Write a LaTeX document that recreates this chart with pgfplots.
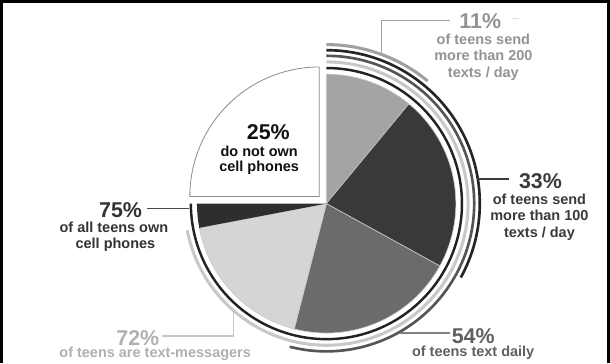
\documentclass[border=0pt]{standalone}
\usepackage{pgfplots}
\pgfplotsset{compat=1.18}
\usepackage{fontspec}
\setmainfont{Liberation Sans}
\definecolor{s1}{HTML}{A4A4A4}
\definecolor{s2}{HTML}{393939}
\definecolor{s3}{HTML}{6B6B6B}
\definecolor{s4}{HTML}{D5D5D5}
\definecolor{s5}{HTML}{2E2E2E}
\definecolor{sep}{HTML}{C8C8C8}
\definecolor{a75}{HTML}{222222}
\definecolor{a72}{HTML}{C8C8C8}
\definecolor{a54}{HTML}{555555}
\definecolor{a33}{HTML}{252525}
\definecolor{a11}{HTML}{A0A0A0}
\definecolor{t11}{HTML}{939393}
\definecolor{t33}{HTML}{3A3A3A}
\definecolor{t54}{HTML}{606060}
\definecolor{t72}{HTML}{B0B0B0}
\definecolor{t75}{HTML}{333333}
\definecolor{t25}{HTML}{111111}
\newcommand{\pctfont}{\fontsize{21}{21}\selectfont\bfseries}
\newcommand{\bodyfont}{\fontsize{14.2}{15}\selectfont\bfseries}
\begin{document}
\begin{tikzpicture}
\begin{axis}[x=1pt,y=1pt,xmin=0,xmax=610,ymin=0,ymax=364,
  axis lines=none,ticks=none,clip=false,scale only axis]
% frame
\draw[black,line width=2.5pt] (axis cs:12,0) -- (axis cs:12,354.5) -- (axis cs:608,354.5) -- (axis cs:608,0);
% pie slices (percent of teens), clockwise from top
\fill[s1,draw=sep,line width=0.6pt] (axis cs:331,156) -- ++(90:127pt) arc[start angle=90,end angle={90-3.6*11},radius=127pt] -- cycle;
\fill[s2,draw=sep,line width=0.6pt] (axis cs:331,156) -- ++({90-3.6*11}:127pt) arc[start angle={90-3.6*11},end angle={90-3.6*33},radius=127pt] -- cycle;
\fill[s3,draw=sep,line width=0.6pt] (axis cs:331,156) -- ++({90-3.6*33}:127pt) arc[start angle={90-3.6*33},end angle={90-3.6*54},radius=127pt] -- cycle;
\fill[s4,draw=sep,line width=0.6pt] (axis cs:331,156) -- ++({90-3.6*54}:127pt) arc[start angle={90-3.6*54},end angle={90-3.6*72},radius=127pt] -- cycle;
\fill[s5] (axis cs:331,156) -- ++({90-3.6*72}:127pt) arc[start angle={90-3.6*72},end angle={90-3.6*75},radius=127pt] -- cycle;
% exploded 25% slice
\filldraw[fill=white,draw=gray!90,line width=0.8pt] (axis cs:324,163) -- ++(90:127pt) arc[start angle=90,end angle={90+3.6*25},radius=127pt] -- cycle;
% cumulative arcs
\draw[a75,line width=2.4pt] (axis cs:331,156) ++(90:133pt) arc[start angle=90,end angle={90-3.6*75},radius=133pt];
\draw[a72,line width=3pt] (axis cs:331,156) ++(90:139pt) arc[start angle=90,end angle={90-3.6*72},radius=139pt];
\draw[a54,line width=2.6pt] (axis cs:331,156) ++(90:145pt) arc[start angle=90,end angle={90-3.6*54},radius=145pt];
\draw[a33,line width=2.6pt] (axis cs:331,156) ++(90:150.5pt) arc[start angle=90,end angle={90-3.6*33},radius=150.5pt];
\draw[a11,line width=3pt] (axis cs:331,156) ++(90:156pt) arc[start angle=90,end angle={90-3.6*11},radius=156pt];
% leaders
\draw[a11,line width=1.2pt] (axis cs:385,304) -- (axis cs:385,336) -- (axis cs:452,336);
\draw[gray!25,line width=1pt] (axis cs:513,338) -- (axis cs:520,338);
\draw[t33,line width=1.3pt] (axis cs:479,180) -- (axis cs:510,180);
\draw[gray,line width=1.2pt] (axis cs:403,29) -- (axis cs:452,29);
\draw[gray!45,line width=1.2pt] (axis cs:240,51) -- (axis cs:240,26) -- (axis cs:170,26);
\draw[black!70,line width=1.2pt] (axis cs:155,151) -- (axis cs:196,151);
% labels
\node[anchor=base,inner sep=0,text=t11,font=\pctfont] at (axis cs:482,327.5) {11\%};
\node[anchor=base,inner sep=0,text=t11,font=\bodyfont] at (axis cs:485,312) {of teens send};
\node[anchor=base,inner sep=0,text=t11,font=\bodyfont] at (axis cs:485,296) {more than 200};
\node[anchor=base,inner sep=0,text=t11,font=\bodyfont] at (axis cs:485,280) {texts / day};
\node[anchor=base,inner sep=0,text=t33,font=\pctfont] at (axis cs:541,171) {33\%};
\node[anchor=base,inner sep=0,text=t33,font=\bodyfont] at (axis cs:540,155.5) {of teens send};
\node[anchor=base,inner sep=0,text=t33,font=\bodyfont] at (axis cs:540,139) {more than 100};
\node[anchor=base,inner sep=0,text=t33,font=\bodyfont] at (axis cs:540,122.5) {texts / day};
\node[anchor=base,inner sep=0,text=t54,font=\pctfont] at (axis cs:475,19) {54\%};
\node[anchor=base,inner sep=0,text=t54,font=\bodyfont] at (axis cs:475,6) {of teens text daily};
\node[anchor=base,inner sep=0,text=t72,font=\pctfont] at (axis cs:146,17) {72\%};
\node[anchor=base,inner sep=0,text=t72,font=\bodyfont] at (axis cs:163,5) {of teens are text-messagers};
\node[anchor=base,inner sep=0,text=t75,font=\pctfont] at (axis cs:129,142.5) {75\%};
\node[anchor=base,inner sep=0,text=t75,font=\bodyfont] at (axis cs:122.5,127.3) {of all teens own};
\node[anchor=base,inner sep=0,text=t75,font=\bodyfont] at (axis cs:124,112) {cell phones};
\node[anchor=base,inner sep=0,text=t25,font=\pctfont] at (axis cs:274,219) {25\%};
\node[anchor=base,inner sep=0,text=t25,font=\bodyfont] at (axis cs:265,202) {do not own};
\node[anchor=base,inner sep=0,text=t25,font=\bodyfont] at (axis cs:265,187) {cell phones};
\end{axis}
\end{tikzpicture}
\end{document}
